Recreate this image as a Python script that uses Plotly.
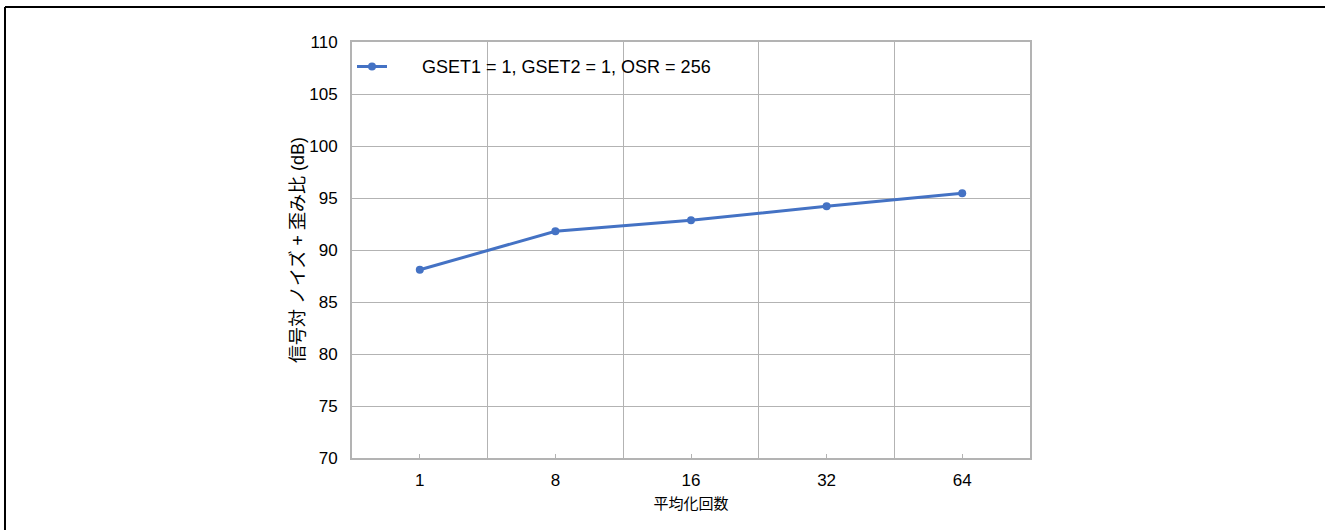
import plotly.graph_objects as go

categories = ["1", "8", "16", "32", "64"]
snr_db = [88.1, 91.8, 92.85, 94.2, 95.45]
series_name = "GSET1 = 1, GSET2 = 1, OSR = 256"

FONT = "Liberation Sans, Arial, Noto Sans CJK JP, sans-serif"
GRID = "#b3b3b3"
BLUE = "#4472c4"

x_pos = list(range(len(categories)))

fig = go.Figure()
fig.add_trace(
    go.Scatter(
        x=x_pos,
        y=snr_db,
        # non-breaking spaces keep the gap between legend symbol and text
        name="\u00a0" * 6 + series_name,
        mode="lines+markers",
        line={"color": BLUE, "width": 3},
        marker={"size": 8, "color": BLUE},
    )
)

fig.update_layout(
    width=1325,
    height=530,
    margin={"l": 352, "r": 295, "t": 42, "b": 72},
    paper_bgcolor="white",
    plot_bgcolor="white",
    font={"family": FONT, "size": 17, "color": "#000000"},
    showlegend=True,
    legend={
        "x": 0.0,
        "y": 0.985,
        "xanchor": "left",
        "yanchor": "top",
        "bgcolor": "rgba(0,0,0,0)",
        "font": {"size": 18},
        "itemwidth": 30,
    },
    # outer frame: only top and left edges fall inside the picture
    shapes=[
        {"type": "line", "xref": "paper", "yref": "paper", "x0": -0.5118, "x1": 1.5, "y0": 1.0841, "y1": 1.0841,
         "line": {"color": "black", "width": 2}},
        {"type": "line", "xref": "paper", "yref": "paper", "x0": -0.5118, "x1": -0.5118, "y0": 1.0841, "y1": -0.3,
         "line": {"color": "black", "width": 2}},
    ],
)

fig.update_xaxes(
    range=[-0.5, len(categories) - 0.5],
    tickmode="array",
    tickvals=x_pos,
    ticktext=categories,
    ticks="inside",
    ticklen=4,
    tickcolor=GRID,
    showgrid=False,
    minor={"tickmode": "linear", "tick0": -0.5, "dtick": 1, "showgrid": True, "gridcolor": GRID, "gridwidth": 1, "ticks": ""},
    showline=True,
    linecolor=GRID,
    linewidth=2,
    mirror=True,
    zeroline=False,
    title={"text": "平均化回数", "font": {"size": 15}, "standoff": 9},
    ticklabelstandoff=6,
)

fig.update_yaxes(
    range=[70, 110],
    dtick=5,
    showgrid=True,
    gridcolor=GRID,
    gridwidth=1,
    showline=True,
    linecolor=GRID,
    linewidth=2,
    mirror=True,
    zeroline=False,
    ticks="",
    ticklabelstandoff=9,
    title={"text": "信号対 ノイズ + 歪み比 (dB)", "font": {"size": 18}, "standoff": 0},
)

fig.write_html(
    "out.html",
    config={"displayModeBar": False},
    post_script="document.body.style.margin='0';document.body.style.overflow='hidden';",
)
